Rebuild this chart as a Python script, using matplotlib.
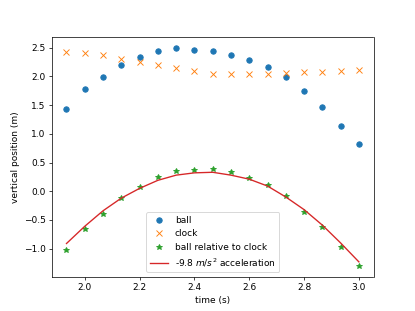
import matplotlib
matplotlib.use("Agg")
import matplotlib.pyplot as plt

# frame times (s), 15 fps
time_s = [1.9333, 2.0, 2.0667, 2.1333, 2.2, 2.2667, 2.3333, 2.4, 2.4667,
          2.5333, 2.6, 2.6667, 2.7333, 2.8, 2.8667, 2.9333, 3.0]

ball_y = [1.43, 1.78, 1.98, 2.20, 2.33, 2.44, 2.49, 2.46, 2.44,
          2.37, 2.28, 2.16, 1.98, 1.74, 1.47, 1.14, 0.82]

clock_y = [2.43, 2.40, 2.37, 2.31, 2.25, 2.19, 2.14, 2.09, 2.04,
           2.04, 2.04, 2.04, 2.05, 2.08, 2.08, 2.09, 2.11]

relative_y = [-1.02, -0.65, -0.40, -0.12, 0.07, 0.24, 0.35, 0.37, 0.39,
              0.33, 0.235, 0.11, -0.08, -0.36, -0.62, -0.97, -1.30]

fit_y = [-0.91, -0.61, -0.34, -0.12, 0.05, 0.19, 0.28, 0.32, 0.33,
         0.28, 0.21, 0.09, -0.10, -0.32, -0.59, -0.90, -1.23]


def main():
    fig = plt.figure(figsize=(415 / 65, 311 / 65), dpi=65)
    plt.plot(time_s, ball_y, "o", label="ball")
    plt.plot(time_s, clock_y, "x", label="clock")
    plt.plot(time_s, relative_y, "*", label="ball relative to clock")
    plt.plot(time_s, fit_y, "-", color="C3", label="-9.8 $m/s^2$ acceleration")
    plt.xlabel("time (s)")
    plt.ylabel("vertical position (m)")
    plt.legend(loc="lower center")
    fig.savefig("out.png", dpi=65)
    plt.close(fig)


if __name__ == "__main__":
    main()
